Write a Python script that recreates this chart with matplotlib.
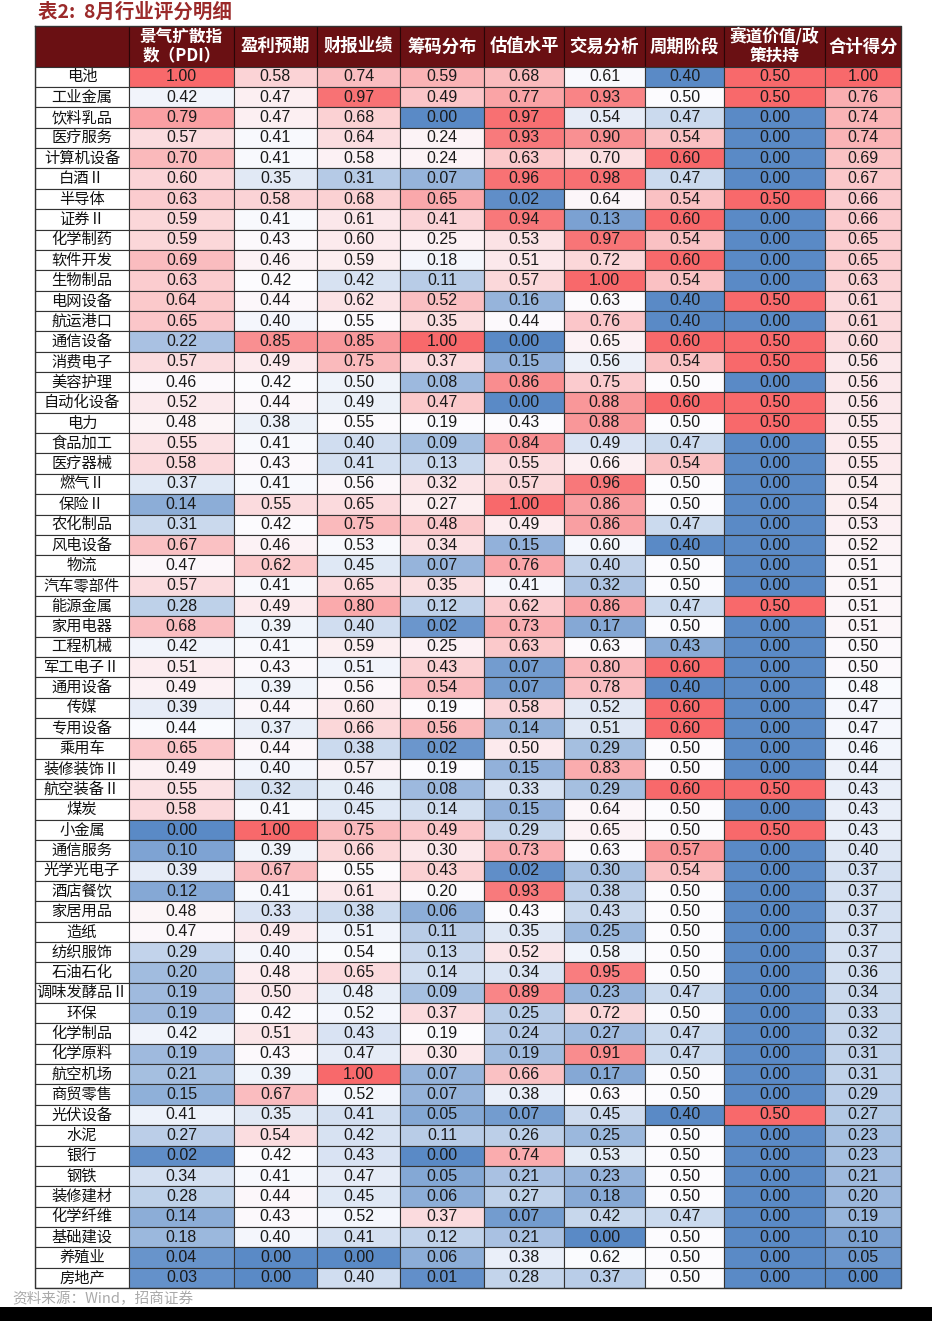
import numpy as np
import matplotlib
matplotlib.use('Agg')
import matplotlib.pyplot as plt
from matplotlib.colors import LinearSegmentedColormap, TwoSlopeNorm

plt.rcParams['font.family'] = ['Noto Sans CJK SC', 'DejaVu Sans']

# 表头
headers = ['景气扩散指\n数（PDI）', '盈利预期', '财报业绩', '筹码分布', '估值水平',
           '交易分析', '周期阶段', '赛道价值/政\n策扶持', '合计得分']

industries = ['电池', '工业金属', '饮料乳品', '医疗服务', '计算机设备', '白酒Ⅱ', '半导体', '证券Ⅱ',
              '化学制药', '软件开发', '生物制品', '电网设备', '航运港口', '通信设备', '消费电子',
              '美容护理', '自动化设备', '电力', '食品加工', '医疗器械', '燃气Ⅱ', '保险Ⅱ', '农化制品',
              '风电设备', '物流', '汽车零部件', '能源金属', '家用电器', '工程机械', '军工电子Ⅱ',
              '通用设备', '传媒', '专用设备', '乘用车', '装修装饰Ⅱ', '航空装备Ⅱ', '煤炭', '小金属',
              '通信服务', '光学光电子', '酒店餐饮', '家居用品', '造纸', '纺织服饰', '石油石化',
              '调味发酵品Ⅱ', '环保', '化学制品', '化学原料', '航空机场', '商贸零售', '光伏设备',
              '水泥', '银行', '钢铁', '装修建材', '化学纤维', '基础建设', '养殖业', '房地产']

pdi = [1.00, 0.42, 0.79, 0.57, 0.70, 0.60, 0.63, 0.59, 0.59, 0.69, 0.63, 0.64, 0.65, 0.22, 0.57,
       0.46, 0.52, 0.48, 0.55, 0.58, 0.37, 0.14, 0.31, 0.67, 0.47, 0.57, 0.28, 0.68, 0.42, 0.51,
       0.49, 0.39, 0.44, 0.65, 0.49, 0.55, 0.58, 0.00, 0.10, 0.39, 0.12, 0.48, 0.47, 0.29, 0.20,
       0.19, 0.19, 0.42, 0.19, 0.21, 0.15, 0.41, 0.27, 0.02, 0.34, 0.28, 0.14, 0.18, 0.04, 0.03]
profit = [0.58, 0.47, 0.47, 0.41, 0.41, 0.35, 0.58, 0.41, 0.43, 0.46, 0.42, 0.44, 0.40, 0.85, 0.49,
          0.42, 0.44, 0.38, 0.41, 0.43, 0.41, 0.55, 0.42, 0.46, 0.62, 0.41, 0.49, 0.39, 0.41, 0.43,
          0.39, 0.44, 0.37, 0.44, 0.40, 0.32, 0.41, 1.00, 0.39, 0.67, 0.41, 0.33, 0.49, 0.40, 0.48,
          0.50, 0.42, 0.51, 0.43, 0.39, 0.67, 0.35, 0.54, 0.42, 0.41, 0.44, 0.43, 0.40, 0.00, 0.00]
report = [0.74, 0.97, 0.68, 0.64, 0.58, 0.31, 0.68, 0.61, 0.60, 0.59, 0.42, 0.62, 0.55, 0.85, 0.75,
          0.50, 0.49, 0.55, 0.40, 0.41, 0.56, 0.65, 0.75, 0.53, 0.45, 0.65, 0.80, 0.40, 0.59, 0.51,
          0.56, 0.60, 0.66, 0.38, 0.57, 0.46, 0.45, 0.75, 0.66, 0.55, 0.61, 0.38, 0.51, 0.54, 0.65,
          0.48, 0.52, 0.43, 0.47, 1.00, 0.52, 0.41, 0.42, 0.43, 0.47, 0.45, 0.52, 0.41, 0.00, 0.40]
chips = [0.59, 0.49, 0.00, 0.24, 0.24, 0.07, 0.65, 0.41, 0.25, 0.18, 0.11, 0.52, 0.35, 1.00, 0.37,
         0.08, 0.47, 0.19, 0.09, 0.13, 0.32, 0.27, 0.48, 0.34, 0.07, 0.35, 0.12, 0.02, 0.25, 0.43,
         0.54, 0.19, 0.56, 0.02, 0.19, 0.08, 0.14, 0.49, 0.30, 0.43, 0.20, 0.06, 0.11, 0.13, 0.14,
         0.09, 0.37, 0.19, 0.30, 0.07, 0.07, 0.05, 0.11, 0.00, 0.05, 0.06, 0.37, 0.12, 0.06, 0.01]
valuation = [0.68, 0.77, 0.97, 0.93, 0.63, 0.96, 0.02, 0.94, 0.53, 0.51, 0.57, 0.16, 0.44, 0.00, 0.15,
             0.86, 0.00, 0.43, 0.84, 0.55, 0.57, 1.00, 0.49, 0.15, 0.76, 0.41, 0.62, 0.73, 0.63, 0.07,
             0.07, 0.58, 0.14, 0.50, 0.15, 0.33, 0.15, 0.29, 0.73, 0.02, 0.93, 0.43, 0.35, 0.52, 0.34,
             0.89, 0.25, 0.24, 0.19, 0.66, 0.38, 0.07, 0.26, 0.74, 0.21, 0.27, 0.07, 0.21, 0.38, 0.28]
trading = [0.61, 0.93, 0.54, 0.90, 0.70, 0.98, 0.64, 0.13, 0.97, 0.72, 1.00, 0.63, 0.76, 0.65, 0.56,
           0.75, 0.88, 0.88, 0.49, 0.66, 0.96, 0.86, 0.86, 0.60, 0.40, 0.32, 0.86, 0.17, 0.63, 0.80,
           0.78, 0.52, 0.51, 0.29, 0.83, 0.29, 0.64, 0.65, 0.63, 0.30, 0.38, 0.43, 0.25, 0.58, 0.95,
           0.23, 0.72, 0.27, 0.91, 0.17, 0.63, 0.45, 0.25, 0.53, 0.23, 0.18, 0.42, 0.00, 0.62, 0.37]
cycle = [0.40, 0.50, 0.47, 0.54, 0.60, 0.47, 0.54, 0.60, 0.54, 0.60, 0.54, 0.40, 0.40, 0.60, 0.54,
         0.50, 0.60, 0.50, 0.47, 0.54, 0.50, 0.50, 0.47, 0.40, 0.50, 0.50, 0.47, 0.50, 0.43, 0.60,
         0.40, 0.60, 0.60, 0.50, 0.50, 0.60, 0.50, 0.50, 0.57, 0.54, 0.50, 0.50, 0.50, 0.50, 0.50,
         0.47, 0.50, 0.47, 0.47, 0.50, 0.50, 0.40, 0.50, 0.50, 0.50, 0.50, 0.47, 0.50, 0.50, 0.50]
track = [0.50, 0.50, 0.00, 0.00, 0.00, 0.00, 0.50, 0.00, 0.00, 0.00, 0.00, 0.50, 0.00, 0.50, 0.50,
         0.00, 0.50, 0.50, 0.00, 0.00, 0.00, 0.00, 0.00, 0.00, 0.00, 0.00, 0.50, 0.00, 0.00, 0.00,
         0.00, 0.00, 0.00, 0.00, 0.00, 0.50, 0.00, 0.50, 0.00, 0.00, 0.00, 0.00, 0.00, 0.00, 0.00,
         0.00, 0.00, 0.00, 0.00, 0.00, 0.00, 0.50, 0.00, 0.00, 0.00, 0.00, 0.00, 0.00, 0.00, 0.00]
total = [1.00, 0.76, 0.74, 0.74, 0.69, 0.67, 0.66, 0.66, 0.65, 0.65, 0.63, 0.61, 0.61, 0.60, 0.56,
         0.56, 0.56, 0.55, 0.55, 0.55, 0.54, 0.54, 0.53, 0.52, 0.51, 0.51, 0.51, 0.51, 0.50, 0.50,
         0.48, 0.47, 0.47, 0.46, 0.44, 0.43, 0.43, 0.43, 0.40, 0.37, 0.37, 0.37, 0.37, 0.37, 0.36,
         0.34, 0.33, 0.32, 0.31, 0.31, 0.29, 0.27, 0.23, 0.23, 0.21, 0.20, 0.19, 0.10, 0.05, 0.00]

columns = [pdi, profit, report, chips, valuation, trading, cycle, track, total]

# 列边界(像素)
col_edges = np.array([35, 129, 234, 317, 400, 484, 564, 645, 724, 825, 901])
W, H = 932, 1321
top, bottom = 26, 1288

cmap = LinearSegmentedColormap.from_list('rwb', ['#5A8AC6', '#FCFCFF', '#F8696B'])
head_color = '#6a1013'
line_color = '#333333'
num_font = ['Liberation Sans Narrow', 'Liberation Sans', 'DejaVu Sans']

n = len(industries)
fig = plt.figure(figsize=(W / 100, H / 100), dpi=100)
ax = fig.add_axes([col_edges[0] / W, 1 - bottom / H, (col_edges[-1] - col_edges[0]) / W,
                   (bottom - top) / H])
ax.set_xlim(col_edges[0], col_edges[-1])
ax.set_ylim(n, -2)
ax.axis('off')

rows = np.arange(n) + 0.5
lefts = col_edges[:-1]
widths = np.diff(col_edges)
centers = lefts + widths / 2

# 表头
ax.barh([-1] * len(lefts), widths, left=lefts, height=2, color=head_color,
        edgecolor='#2a0506', linewidth=0.8)
for j, h in enumerate(headers):
    two = '\n' in h
    ax.text(centers[j + 1], -1, h, ha='center', va='center', color='white',
            fontsize=12 if two else 12.5, fontweight='bold', linespacing=1.1)

# 行业列
ax.barh(rows, widths[0], left=lefts[0], height=1, color='white',
        edgecolor=line_color, linewidth=0.8)
for i, name in enumerate(industries):
    ax.text(centers[0], rows[i], name, ha='center', va='center', fontsize=11, color='#111111')

# 数据列
for j, vals in enumerate(columns):
    v = np.array(vals)
    lo, hi, mid = v.min(), v.max(), np.median(v)
    if mid <= lo or mid >= hi:
        mid = (lo + hi) / 2
    norm = TwoSlopeNorm(vcenter=mid, vmin=lo, vmax=hi)
    ax.barh(rows, widths[j + 1], left=lefts[j + 1], height=1, color=cmap(norm(v)),
            edgecolor=line_color, linewidth=0.8)
    for i, x in enumerate(v):
        ax.text(centers[j + 1], rows[i], '%.2f' % x, ha='center', va='center',
                fontsize=11.5, color='#1a1a1a', family=num_font)

ax.plot([col_edges[0], col_edges[-1], col_edges[-1], col_edges[0], col_edges[0]],
        [-2, -2, n, n, -2], color=line_color, lw=1, clip_on=False)

fig.text(38 / W, 1 - 12 / H, '表2:  8月行业评分明细', ha='left', va='center',
         fontsize=14, fontweight='bold', color='#9b2a2a')
fig.text(12 / W, 1 - 1299 / H, '资料来源：Wind，招商证券', ha='left', va='center',
         fontsize=10.5, color='#aaaaaa')

# 底部黑边
band = fig.add_axes([0, 0, 1, 14 / H])
band.set_facecolor('black')
band.set_xticks([])
band.set_yticks([])
for s in band.spines.values():
    s.set_visible(False)

fig.savefig('out.png', dpi=100)
